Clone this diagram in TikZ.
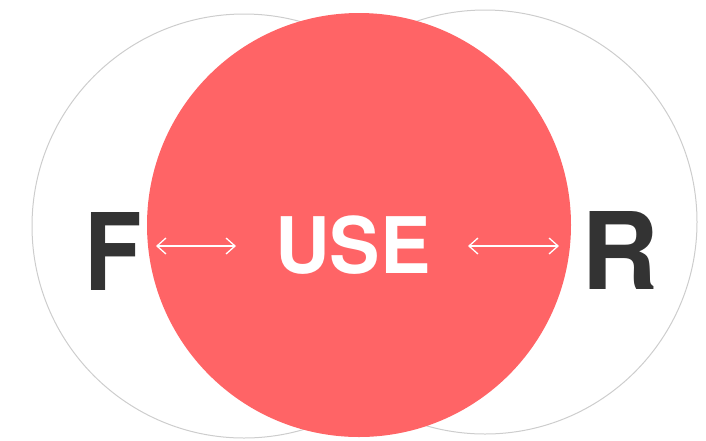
\documentclass[tikz,border=0pt]{standalone}
\usepackage{fontspec}
\setmainfont{TeX Gyre Heros}
\usetikzlibrary{arrows.meta}
\definecolor{usered}{RGB}{255,100,102}
\definecolor{ringgray}{RGB}{205,205,205}
\definecolor{letterdark}{RGB}{51,51,51}
\tikzset{
  x=1pt, y=-1pt,
  ring/.style={circle, draw=ringgray, line width=1pt, minimum size=424pt, inner sep=0pt},
  core/.style={circle, fill=usered, minimum size=424pt, inner sep=0pt},
  sideletter/.style={font=\fontsize{107}{107}\selectfont\bfseries, text=letterdark, inner sep=0pt},
  centerword/.style={font=\fontsize{78}{78}\selectfont\bfseries, text=white, inner sep=0pt},
  twoway/.style={draw=white, line width=1.3pt, {Straight Barb[length=9pt,width=16pt]}-{Straight Barb[length=9pt,width=16pt]}}
}
\begin{document}
\begin{tikzpicture}
\useasboundingbox (0,0) rectangle (706,440);
% outer rings
\node[ring] (left) at (244,226) {};
\node[ring] (right) at (485,222) {};
% central disc
\node[core] (mid) at (359,225) {};
% labels
\node[sideletter, anchor=base, xscale=0.88] (F) at (113.5,290) {F};
\node[sideletter, anchor=base] (R) at (620,289) {R};
\node[centerword, anchor=base, xscale=0.97] (use) at (353,273) {USE};
% double arrows
\coordinate (la) at (156,246);
\coordinate (lb) at (236,246);
\coordinate (ra) at (468,246);
\coordinate (rb) at (559,246);
\draw[twoway] (la) -- (lb);
\draw[twoway] (ra) -- (rb);
\end{tikzpicture}
\end{document}
